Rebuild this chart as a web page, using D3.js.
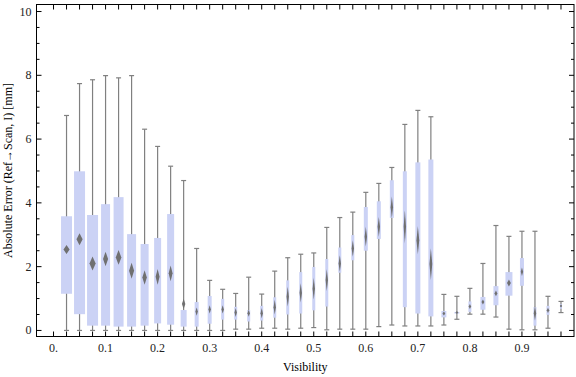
<!DOCTYPE html>
<html>
<head>
<meta charset="utf-8">
<script src="https://cdn.jsdelivr.net/npm/d3@7"></script>
<style>
  body { margin: 0; background: #fff; }
  text { font-family: "Liberation Serif", "Times New Roman", serif; }
</style>
</head>
<body>
<svg id="chart"></svg>
<script>
// box centres (visibility bins)
const visibility = [0.025, 0.05, 0.075, 0.1, 0.125, 0.15, 0.175, 0.2, 0.225, 0.25,
  0.275, 0.3, 0.325, 0.35, 0.375, 0.4, 0.425, 0.45, 0.475, 0.5,
  0.525, 0.55, 0.575, 0.6, 0.625, 0.65, 0.675, 0.7, 0.725, 0.75,
  0.775, 0.8, 0.825, 0.85, 0.875, 0.9, 0.925, 0.95, 0.975];
const minVals = [0, 0, 0, 0, 0, 0, 0, 0, 0, 0,
  0, 0, 0, 0.04, 0.04, 0.07, 0.07, 0.04, 0.07, 0.09,
  0.02, 0.04, 0.04, 0.04, 0.12, 0.17, 0.14, 0.14, 0.14, 0.17,
  0.35, 0.51, 0.51, 0.42, 0.04, 0.02, 0.02, 0.07, 0.56];
const q1Vals = [1.15, 0.51, 0.15, 0.15, 0.12, 0.12, 0.15, 0.22, 0.18, 0.12,
  0.12, 0.21, 0.34, 0.34, 0.28, 0.31, 0.40, 0.50, 0.53, 0.63,
  0.75, 1.81, 2.20, 2.50, 2.87, 3.53, 0.73, 0.53, 0.44, 0.41,
  0.53, 0.58, 0.65, 0.79, 1.09, 1.40, 0.15, 0.49, 0.68];
const meanVals = [2.54, 2.86, 2.10, 2.24, 2.29, 1.87, 1.66, 1.68, 1.79, 0.83,
  0.59, 0.66, 0.66, 0.56, 0.54, 0.54, 0.73, 1.06, 1.18, 1.31,
  1.58, 2.10, 2.57, 2.94, 3.25, 3.86, 3.25, 2.83, 2.08, 0.53,
  0.56, 0.75, 0.89, 1.16, 1.49, 1.84, 0.54, 0.63, 0.77];
const q3Vals = [3.58, 4.99, 3.62, 3.96, 4.18, 3.02, 2.71, 2.90, 3.65, 0.64,
  0.89, 1.08, 0.99, 0.74, 0.64, 0.77, 1.04, 1.57, 1.83, 1.99,
  2.24, 2.60, 2.99, 3.87, 4.05, 4.71, 4.99, 5.27, 5.36, 0.61,
  0.58, 0.91, 1.05, 1.39, 1.83, 2.27, 0.73, 0.77, 0.83];
const maxVals = [6.74, 7.74, 7.86, 7.99, 7.92, 7.99, 6.31, 5.77, 5.15, 4.70,
  2.57, 1.57, 1.29, 1.16, 1.67, 1.14, 1.86, 2.28, 2.39, 2.43,
  3.23, 3.54, 3.71, 4.33, 4.61, 5.11, 6.46, 6.90, 6.70, 1.13,
  1.07, 1.32, 2.10, 3.29, 2.95, 3.11, 3.11, 1.07, 0.91];
// half height of the confidence interval of the mean
const ciVals = [0.14, 0.19, 0.22, 0.23, 0.23, 0.25, 0.23, 0.25, 0.25, 0.16,
  0.13, 0.13, 0.13, 0.14, 0.11, 0.16, 0.23, 0.31, 0.30, 0.34,
  0.34, 0.26, 0.26, 0.31, 0.31, 0.34, 0.52, 0.44, 0.50, 0.06,
  0.05, 0.08, 0.08, 0.09, 0.11, 0.13, 0.23, 0.08, 0.05];
// sample counts, used for box width
const samples = [220, 220, 220, 180, 200, 180, 160, 140, 140, 120,
  80, 80, 60, 60, 60, 60, 60, 60, 60, 60,
  60, 60, 60, 80, 80, 80, 80, 100, 100, 100,
  100, 60, 100, 100, 140, 80, 60, 60, 40];

const xTickLabels = ["0.", "0.1", "0.2", "0.3", "0.4", "0.5", "0.6", "0.7", "0.8", "0.9"];
const yTickLabels = [0, 2, 4, 6, 8, 10];

const W = 576, H = 377;
const frame = { left: 36.5, right: 574, top: 4.5, bottom: 336.5 };

const svg = d3.select("#chart").attr("width", W).attr("height", H);

const x = d3.scaleLinear().domain([-0.0327, 1.0]).range([frame.left, frame.right]);
const y = d3.scaleLinear().domain([-0.19, 10.22]).range([frame.bottom, frame.top]);
const wScale = d3.scaleLinear().domain([0, 220]).range([0, 11]);

svg.append("defs").append("filter")
  .attr("id", "soft")
  .attr("x", "-100%").attr("y", "-50%").attr("width", "300%").attr("height", "200%")
  .append("feGaussianBlur").attr("stdDeviation", 0.6);

const data = visibility.map((v, i) => ({
  v, min: minVals[i], q1: q1Vals[i], mean: meanVals[i], q3: q3Vals[i],
  max: maxVals[i], ci: ciVals[i], n: samples[i]
}));

const boxes = svg.append("g");
const g = boxes.selectAll("g.box").data(data).enter().append("g").attr("class", "box");

// whiskers
g.append("line")
  .attr("x1", d => x(d.v)).attr("x2", d => x(d.v))
  .attr("y1", d => y(d.min)).attr("y2", d => y(d.max))
  .attr("stroke", "#808080").attr("stroke-width", 1.2);
g.append("line")
  .attr("x1", d => x(d.v) - 2.5).attr("x2", d => x(d.v) + 2.5)
  .attr("y1", d => y(d.max)).attr("y2", d => y(d.max))
  .attr("stroke", "#808080").attr("stroke-width", 1.2);
g.append("line")
  .attr("x1", d => x(d.v) - 2.5).attr("x2", d => x(d.v) + 2.5)
  .attr("y1", d => y(d.min)).attr("y2", d => y(d.min))
  .attr("stroke", "#808080").attr("stroke-width", 1.2);

// inter-quartile box
g.append("rect")
  .attr("x", d => x(d.v) - wScale(d.n) / 2)
  .attr("width", d => wScale(d.n))
  .attr("y", d => y(d.q3))
  .attr("height", d => Math.max(1, y(d.q1) - y(d.q3)))
  .attr("fill", "#cbd2f5");

// mean diamond
g.append("path")
  .attr("d", d => {
    const cx = x(d.v), hw = Math.max(1.2, wScale(d.n) * 0.28);
    return `M${cx},${y(d.mean + d.ci)}L${cx + hw},${y(d.mean)}L${cx},${y(d.mean - d.ci)}L${cx - hw},${y(d.mean)}Z`;
  })
  .attr("fill", "#6f6f6f")
  .attr("filter", "url(#soft)");

// frame
svg.append("rect")
  .attr("x", frame.left).attr("y", frame.top)
  .attr("width", frame.right - frame.left).attr("height", frame.bottom - frame.top)
  .attr("fill", "none").attr("stroke", "#000").attr("stroke-width", 1);

// x ticks (bottom and top) at every bin
const xTicks = [0].concat(visibility);
svg.append("g").selectAll("line").data(xTicks).enter().append("line")
  .attr("x1", d => x(d)).attr("x2", d => x(d))
  .attr("y1", frame.bottom).attr("y2", frame.bottom - 5)
  .attr("stroke", "#000");
svg.append("g").selectAll("line").data(xTicks).enter().append("line")
  .attr("x1", d => x(d)).attr("x2", d => x(d))
  .attr("y1", frame.top).attr("y2", frame.top + 5)
  .attr("stroke", "#000");

svg.append("g").selectAll("text").data(xTickLabels).enter().append("text")
  .attr("x", (d, i) => x(i / 10))
  .attr("y", 352)
  .attr("text-anchor", "middle")
  .attr("font-size", 12)
  .attr("fill", "#222")
  .text(d => d);

// y ticks, major every 2, minor every 0.5
const yMinor = d3.range(0, 10.01, 0.5);
[frame.left, frame.right].forEach(side => {
  const dir = side === frame.left ? 1 : -1;
  svg.append("g").selectAll("line").data(yMinor).enter().append("line")
    .attr("x1", side)
    .attr("x2", d => side + dir * (d % 2 === 0 ? 5 : 3))
    .attr("y1", d => y(d)).attr("y2", d => y(d))
    .attr("stroke", "#000");
});

svg.append("g").selectAll("text").data(yTickLabels).enter().append("text")
  .attr("x", 31.5)
  .attr("y", d => y(d) + 4)
  .attr("text-anchor", "end")
  .attr("font-size", 12)
  .attr("fill", "#222")
  .text(d => d);

// axis labels
svg.append("text")
  .attr("x", (frame.left + frame.right) / 2)
  .attr("y", 371)
  .attr("text-anchor", "middle")
  .attr("font-size", 12)
  .text("Visibility");

svg.append("text")
  .attr("transform", `translate(12, ${(frame.top + frame.bottom) / 2}) rotate(-90)`)
  .attr("text-anchor", "middle")
  .attr("font-size", 12)
  .text("Absolute Error (Ref\u2192Scan, I) [mm]");
</script>
</body>
</html>
